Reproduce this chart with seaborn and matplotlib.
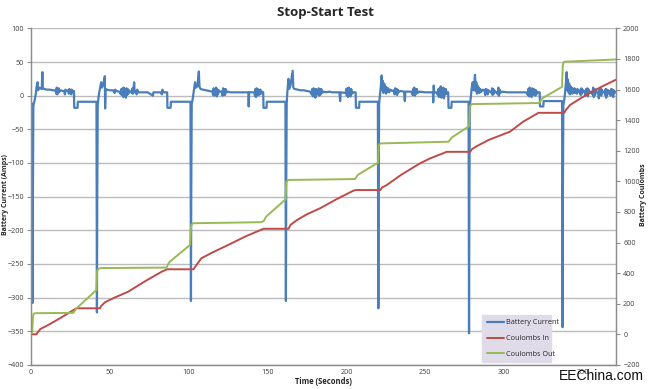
import pandas as pd
import seaborn as sns
import matplotlib.pyplot as plt

# battery current (time s, amps), one list per stop-start cycle
cycle1 = [(0, -10), (0.6, -12), (0.9, -60), (1.0, -308), (1.2, -150), (1.5, -15), (2.2, -8), (3.0, 2), (3.5, 13),
          (4.2, 20), (4.5, 8), (5.2, 12), (6.0, 11), (6.8, 10), (7.2, 35), (7.5, 11), (8.5, 10), (10, 9), (12, 9),
          (14, 8), (15.5, 8), (16, 3), (16.3, 12), (16.6, 2), (17, 10), (17.3, 4), (17.6, 11), (18, 6), (19, 8),
          (20, 7), (21, 7), (21.5, 2), (21.8, 9), (22.5, 7), (23.5, 8), (24, 3), (24.3, 10), (25, 7), (25.5, 2),
          (25.8, 9), (26.5, 6), (27.2, 7), (27.4, -18), (29.5, -18), (29.7, -9), (41.5, -9)]
cycle2 = [(41.8, -322), (42.0, -150), (42.3, -15), (42.8, -2), (43.5, 8), (44.5, 20), (45, 12), (46, 18),
          (46.8, 29), (47.0, -19), (47.3, 10), (48, 9), (50, 8), (52, 8), (53, 4), (53.3, 9), (54, 7), (56, 6),
          (57, 2), (57.3, 10), (57.7, 1), (58.1, 11), (58.5, -2), (58.9, 12), (59.3, 0), (59.7, 9), (60.1, -3),
          (60.5, 11), (60.9, 1), (61.3, 10), (61.7, 3), (62.1, 8), (63, 6), (64, 4), (64.3, 11), (64.6, 3),
          (65.4, 20), (65.7, 5), (66.5, 6), (67, 2), (67.3, 9), (68, 5), (70, 5), (72, 5), (74, 5), (77.3, 0),
          (77.6, 5), (80, 5), (82, 5), (83, 2), (83.3, 9), (84, 5), (86.3, 5), (86.5, -18), (88.5, -18),
          (88.7, -9), (101.1, -9)]
cycle3 = [(101.4, -305), (101.6, -140), (101.9, -12), (102.5, -5), (103.3, 8), (104, 20), (104.5, 12),
          (105.5, 14), (106.4, 36), (106.8, 13), (107.5, 10), (109, 9), (111, 8), (113, 7), (115, 6), (115.4, 1),
          (115.8, 11), (116.2, 0), (116.6, 10), (117, 3), (117.4, 12), (117.8, -1), (118.2, 9), (118.6, 2),
          (119, 8), (120, 6), (121, 6), (121.4, 0), (121.8, 11), (122.2, 2), (122.6, 9), (123, 1), (123.4, 10),
          (124, 5), (125, 6), (126, 5), (130, 5), (134, 5), (137.8, 5), (138, -16), (138.3, 5), (141.5, 5),
          (142, 0), (142.3, 10), (142.6, -2), (143, 11), (143.4, 0), (143.8, 10), (144.2, 1), (144.6, 8), (145, 2),
          (145.4, 9), (145.8, 3), (146.5, 6), (147.2, 5), (147.4, -18), (149.3, -18), (149.5, -9), (161.3, -9)]
cycle4 = [(161.6, -305), (161.8, -140), (162.1, -12), (162.5, 5), (163.2, 25), (163.6, 10), (164.5, 15),
          (165.9, 37), (166.3, 12), (167, 10), (169, 9), (171, 8), (173, 8), (175, 7), (177, 6), (178, 2),
          (178.3, 10), (178.7, -1), (179.1, 11), (179.5, 0), (179.9, 9), (180.3, -3), (180.7, 10), (181.1, 1),
          (181.5, 8), (182, 4), (182.4, 11), (182.8, 0), (183.2, 9), (183.6, 2), (184, 10), (184.5, 4), (185.5, 6),
          (187, 5), (189, 6), (191, 5), (195.5, 5), (196, -8), (196.3, 5), (199.5, 4), (199.8, 10), (200.2, 0),
          (200.6, 11), (201, -2), (201.4, 12), (201.8, 1), (202.2, 9), (202.6, -1), (203, 10), (203.5, 3),
          (204.5, 5), (205.8, 5), (206, -18), (208, -18), (208.2, -9), (219.9, -9)]
cycle5 = [(220.2, -316), (220.4, -140), (220.7, -12), (221.2, 0), (221.8, 15), (222.3, 30), (222.7, 8),
          (223.1, 22), (223.5, 4), (223.9, 18), (224.3, 6), (224.7, 14), (225.1, 3), (225.5, 12), (226, 6),
          (226.5, 11), (227, 5), (228, 9), (229, 7), (230, 8), (230.5, 2), (230.9, 11), (231.3, 3), (231.7, 10),
          (232.1, 1), (232.5, 9), (233, 5), (234, 7), (236.5, 6), (237, -8), (237.3, 6), (241, 6), (242, 1),
          (242.3, 10), (242.6, 2), (243, 12), (243.4, 0), (243.8, 9), (244.2, 3), (244.6, 10), (245, 4), (246, 6),
          (250, 5), (254.8, 5), (255, -10), (255.3, 15), (255.6, 5), (257, 5), (258, 1), (258.3, 10), (258.6, -2),
          (259, 11), (259.4, 0), (259.8, 14), (260.2, -3), (260.6, 10), (261, 1), (261.4, 12), (261.8, -4),
          (262.2, 9), (262.6, 2), (263, 10), (263.5, 3), (264.5, 5), (264.7, -18), (266.5, -18), (266.7, -9),
          (277.4, -9)]
cycle6 = [(277.7, -353), (277.9, -160), (278.2, -15), (278.8, -3), (279.3, 10), (280, 20), (280.6, 8),
          (281.5, 31), (281.9, 7), (282.3, 20), (282.7, 3), (283.1, 15), (283.5, 5), (283.9, 12), (284.3, 4),
          (284.8, 10), (285.5, 6), (286.5, 9), (287.5, 7), (288, 1), (288.3, 10), (288.7, 3), (289.1, 9),
          (289.5, 2), (290, 8), (291, 6), (292, 4), (292.3, 11), (292.7, 1), (293.1, 10), (293.5, 3), (294, 7),
          (295, 5), (296, 2), (296.3, 12), (296.7, 0), (297.1, 9), (297.5, 4), (298.5, 6), (302, 5), (308, 5),
          (314, 5), (315, 1), (315.3, 10), (315.7, -1), (316.1, 12), (316.5, 0), (316.9, 9), (317.3, -2),
          (317.7, 11), (318.1, 1), (318.5, 10), (319, 2), (319.4, 9), (319.8, 0), (320.2, 8), (320.8, 3),
          (321.5, 5), (322.5, 5), (322.7, -16), (324.8, -16), (325, -8), (336.7, -8)]
cycle7 = [(337, -344), (337.2, -150), (337.5, -14), (338, -8), (338.6, 5), (339.1, 18), (339.6, 35), (340, 8),
          (340.4, 24), (340.8, 5), (341.2, 18), (341.6, 2), (342, 14), (342.4, 4), (342.8, 12), (343.2, 3),
          (343.6, 10), (344, 5), (344.5, 11), (345, 4), (345.5, 9), (346, 3), (346.5, 10), (347, 5), (348, 8),
          (348.5, 1), (348.9, 11), (349.3, 3), (349.7, 9), (350.2, 6), (351, 7), (351.5, 0), (351.9, 10),
          (352.3, 2), (352.7, 11), (353.1, -1), (353.5, 9), (354, 4), (355, 6), (356, 2), (356.4, 12), (356.8, -2),
          (357.2, 10), (357.6, 1), (358, 9), (358.5, 5), (359.5, 6), (360, -4), (360.3, 10), (360.7, 2),
          (361.1, 11), (361.5, 0), (361.9, 9), (362.5, 5), (363.5, 6), (364, 1), (364.3, 10), (364.7, -3),
          (365.1, 9), (365.5, 2), (366, 8), (367, 5), (367.5, 0), (367.9, 10), (368.3, 2), (368.7, 9), (369.1, -2),
          (369.5, 8), (370, 4), (371, 6)]

# coulombs (time s, coulombs) - right axis
coulombs_in = [(0, 0), (3.5, 0), (4, 10), (6, 35), (11, 61), (19.4, 111), (27.9, 165), (29, 170), (43.7, 170),
               (44.5, 185), (47, 210), (53, 240), (61.7, 279), (72, 345), (82.8, 409), (86.3, 425), (103, 425),
               (104, 440), (108, 497), (115, 535), (125, 584), (136, 640), (147.4, 690), (163.3, 690),
               (164.5, 715), (168.6, 747), (175, 785), (183.3, 824), (194, 885), (204.4, 939), (206, 943),
               (221.5, 943), (222.5, 960), (225.4, 975), (235, 1045), (246.7, 1118), (253, 1150), (263.6, 1193),
               (278.4, 1193), (279.5, 1210), (282.6, 1230), (290, 1270), (303.7, 1325), (312, 1390),
               (321.7, 1448), (338, 1448), (339, 1465), (341.8, 1500), (348, 1540), (355.6, 1586), (362, 1620),
               (369.3, 1657), (371, 1665)]
coulombs_out = [(0, 0), (0.8, 20), (1.2, 110), (1.6, 135), (3, 138), (15, 139), (26.8, 140), (28.9, 170),
                (41.5, 290), (41.9, 415), (42.8, 430), (45, 433), (86, 436), (87, 460), (88, 475), (100.8, 584),
                (101.5, 710), (102.5, 726), (146, 733), (147.5, 740), (149, 769), (161.4, 882), (161.8, 995),
                (163, 1009), (205.5, 1015), (207, 1040), (208.7, 1052), (220.0, 1122), (220.4, 1235),
                (221.5, 1248), (264.7, 1259), (266.8, 1287), (277.8, 1361), (278.2, 1490), (279.5, 1505),
                (322.3, 1512), (324, 1542), (336.7, 1618), (337.1, 1760), (338, 1782), (371, 1797)]

x_ticks = list(range(0, 351, 50))
left_ticks = list(range(-400, 101, 50))
right_ticks = list(range(-200, 2001, 200))

current = pd.DataFrame(cycle1 + cycle2 + cycle3 + cycle4 + cycle5 + cycle6 + cycle7, columns=['Time', 'Amps'])
c_in = pd.DataFrame(coulombs_in, columns=['Time', 'Coulombs'])
c_out = pd.DataFrame(coulombs_out, columns=['Time', 'Coulombs'])

sns.set_style('white')
plt.rcParams['font.family'] = ['Open Sans', 'DejaVu Sans']

blue, red, green = '#4a7ebb', '#be4b48', '#98b954'
grid_c, spine_c, text_c = '#bcbcbc', '#8c8c8c', '#404040'

fig = plt.figure(figsize=(6.5, 3.89), dpi=100)
ax = fig.add_axes([0.0477, 0.062, 0.9003, 0.865])
ax2 = ax.twinx()

sns.lineplot(data=current, x='Time', y='Amps', ax=ax, color=blue, lw=1.6, sort=False, label='Battery Current',
             legend=False)
sns.lineplot(data=c_in, x='Time', y='Coulombs', ax=ax2, color=red, lw=1.4, sort=False, label='Coulombs In',
             legend=False)
sns.lineplot(data=c_out, x='Time', y='Coulombs', ax=ax2, color=green, lw=1.4, sort=False, label='Coulombs Out',
             legend=False)

ax.set_xlim(0, 371)
ax.set_ylim(-400, 100)
ax2.set_ylim(-200, 2000)
ax.set_xticks(x_ticks)
ax.set_yticks(left_ticks)
ax2.set_yticks(right_ticks)
ax.yaxis.grid(True, color=grid_c, lw=1)
ax.set_axisbelow(True)

for a in (ax, ax2):
    for s in a.spines.values():
        s.set_color(spine_c)
        s.set_linewidth(0.9)
    a.spines['top'].set_visible(False)
    a.tick_params(labelsize=5.2, colors=text_c, length=3, width=0.8, color=spine_c, pad=2)
ax.tick_params(axis='x', length=0, pad=3)

ax.set_xlabel('Time (Seconds)', fontsize=5.5, fontweight='bold', labelpad=1)
ax.set_ylabel('')
ax2.set_ylabel('')
fig.text(0.008, 0.5, 'Battery Current (Amps)', fontsize=5.0, fontweight='bold', rotation=90,
         ha='center', va='center')
fig.text(0.99, 0.5, 'Battery Coulombs', fontsize=5.0, fontweight='bold', rotation=90,
         ha='center', va='center')
fig.suptitle('Stop-Start Test', fontsize=9.5, fontweight='bold', y=0.985, x=0.5)

h1, l1 = ax.get_legend_handles_labels()
h2, l2 = ax2.get_legend_handles_labels()
leg = ax2.legend(h1 + h2, l1 + l2, loc='lower left', bbox_to_anchor=(0.771, 0.008, 0.118, 0.14),
                 mode='expand', fontsize=5.2, frameon=True, fancybox=False, handlelength=2.4, handletextpad=0.3,
                 borderaxespad=0, labelspacing=1.2, borderpad=0.6)
leg.get_frame().set_facecolor('#dfdbe8')
leg.get_frame().set_edgecolor('#dfdbe8')
leg.get_frame().set_alpha(1)

fig.text(0.99, 0.015, 'EEChina.com', fontsize=10, ha='right', va='bottom', color='#111111',
         family=['Liberation Sans', 'DejaVu Sans'])

fig.savefig('out.png', dpi=100)
